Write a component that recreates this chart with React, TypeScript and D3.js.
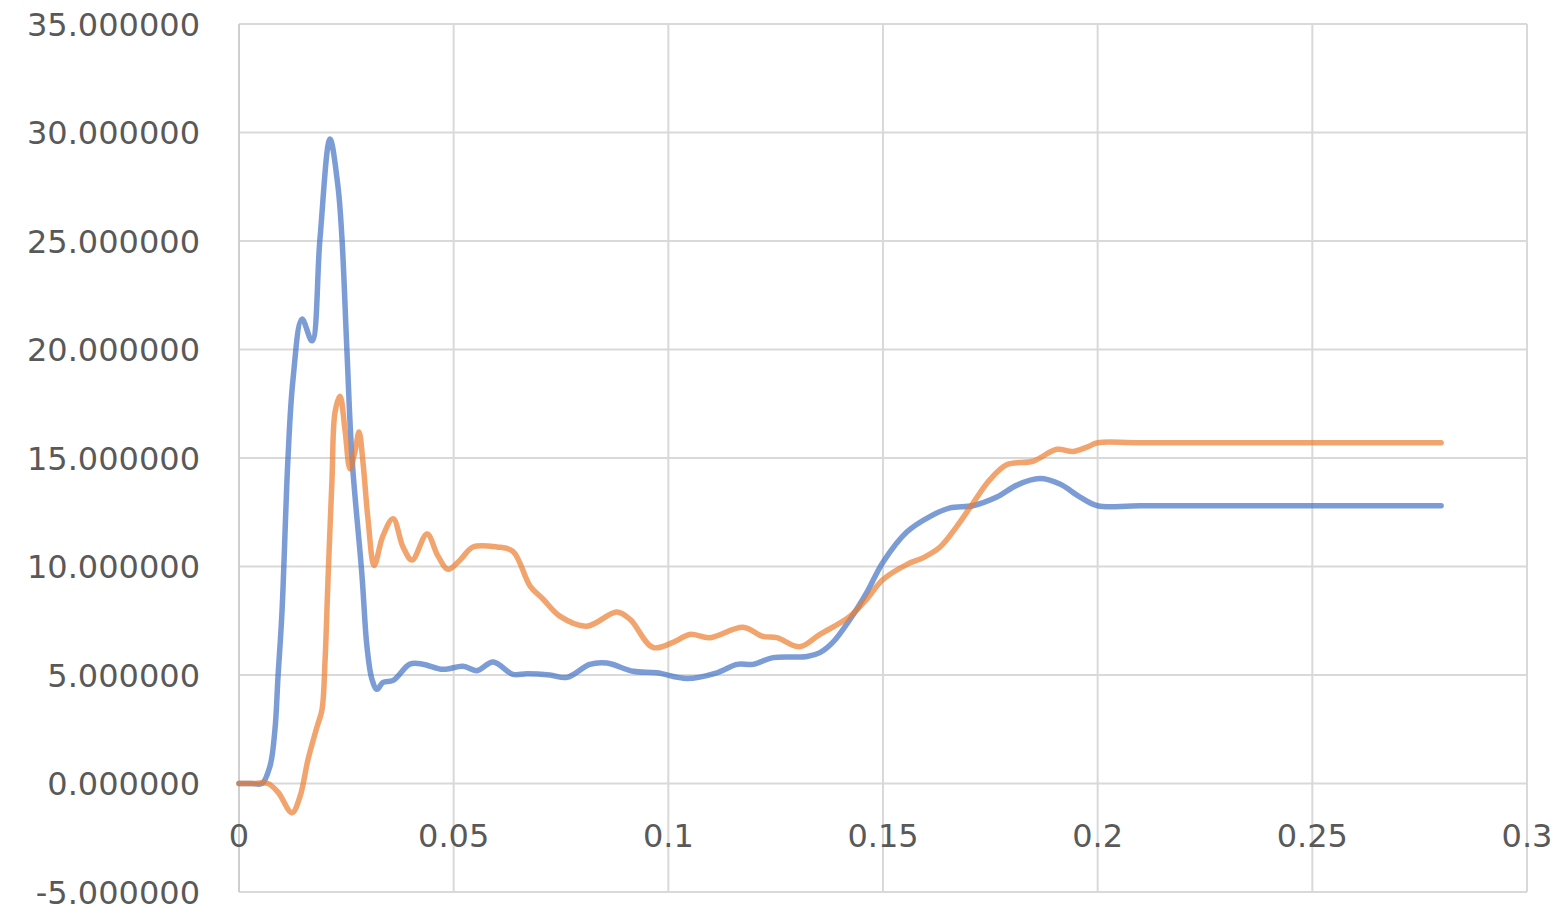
import React from "react";
import * as d3 from "d3";

const blueT = [0, 0.003, 0.00536, 0.00722, 0.00838, 0.00908, 0.01001, 0.01141, 0.01257, 0.01467, 0.017, 0.01886, 0.02119, 0.02306, 0.02399, 0.02515, 0.02632, 0.02864, 0.02981, 0.03097, 0.03214, 0.03354, 0.0359, 0.0398, 0.0428, 0.0475, 0.0522, 0.0554, 0.0592, 0.0638, 0.0671, 0.0724, 0.0764, 0.0817, 0.0857, 0.0918, 0.0973, 0.1043, 0.1113, 0.116, 0.1197, 0.1244, 0.1323, 0.1353, 0.1383, 0.1423, 0.1462, 0.15, 0.1556, 0.1609, 0.1656, 0.1709, 0.1765, 0.1812, 0.1865, 0.1912, 0.1959, 0.2, 0.21, 0.28];
const blueV = [0, 0, 0, 0.8, 2.5, 4.9, 7.9, 15, 18.6, 21.4, 20.4, 25.1, 29.7, 27.5, 25.1, 19.9, 15, 9.6, 6.3, 4.8, 4.34, 4.66, 4.75, 5.5, 5.5, 5.26, 5.4, 5.2, 5.6, 5.03, 5.06, 5.0, 4.89, 5.49, 5.55, 5.17, 5.1, 4.84, 5.1, 5.49, 5.49, 5.8, 5.85, 6.03, 6.5, 7.56, 8.8, 10.2, 11.6, 12.3, 12.7, 12.8, 13.2, 13.75, 14.05, 13.8, 13.2, 12.8, 12.8, 12.8];

const orangeT = [0, 0.003, 0.0067, 0.00908, 0.01234, 0.01421, 0.01607, 0.01816, 0.01933, 0.02003, 0.02073, 0.02166, 0.02236, 0.02352, 0.02469, 0.02585, 0.02701, 0.02795, 0.02888, 0.03004, 0.0315, 0.0335, 0.0359, 0.0382, 0.0403, 0.0438, 0.0463, 0.0487, 0.0515, 0.0545, 0.0601, 0.0638, 0.0678, 0.0708, 0.0748, 0.081, 0.088, 0.0911, 0.0964, 0.1011, 0.105, 0.1097, 0.1174, 0.122, 0.1253, 0.1306, 0.1353, 0.1423, 0.1462, 0.15, 0.1556, 0.1593, 0.1633, 0.1672, 0.1709, 0.1749, 0.1789, 0.1849, 0.1905, 0.1942, 0.1975, 0.2, 0.21, 0.28];
const orangeV = [0, 0, 0, -0.4, -1.35, -0.6, 1.1, 2.6, 3.4, 5.6, 9.4, 14, 17.1, 17.85, 16.3, 14.5, 15.3, 16.2, 14.8, 12.2, 10.05, 11.4, 12.2, 10.9, 10.3, 11.5, 10.5, 9.87, 10.3, 10.9, 10.9, 10.7, 9.1, 8.5, 7.7, 7.25, 7.9, 7.56, 6.27, 6.5, 6.87, 6.72, 7.2, 6.78, 6.72, 6.3, 6.87, 7.7, 8.5, 9.4, 10.1, 10.4, 10.9, 11.85, 12.9, 14.0, 14.7, 14.85, 15.4, 15.3, 15.5, 15.7, 15.7, 15.7];

const xTicks = [0, 0.05, 0.1, 0.15, 0.2, 0.25, 0.3];
const xTickLabels = ["0", "0.05", "0.1", "0.15", "0.2", "0.25", "0.3"];
const yTicks = [-5, 0, 5, 10, 15, 20, 25, 30, 35];

const W = 1563;
const H = 913;
const left = 239;
const right = 1527;
const top = 24;
const bottom = 892;

export default function App() {
  const x = d3.scaleLinear().domain([0, 0.3]).range([left, right]);
  const y = d3.scaleLinear().domain([-5, 35]).range([bottom, top]);
  const line = d3
    .line<[number, number]>()
    .x((d) => x(d[0]))
    .y((d) => y(d[1]))
    .curve(d3.curveCatmullRom.alpha(0.5));
  const blue = blueT.map((t, i) => [t, blueV[i]] as [number, number]);
  const orange = orangeT.map((t, i) => [t, orangeV[i]] as [number, number]);
  const font = "'DejaVu Sans', sans-serif";
  return (
    <svg
      width={W}
      height={H}
      style={{ position: "absolute", left: 0, top: 0, background: "#fff" }}
    >
      <rect x={0} y={0} width={W} height={H} fill="#fff" />
      {yTicks.map((v) => (
        <line key={"h" + v} x1={left} x2={right} y1={y(v)} y2={y(v)} stroke="#d9d9d9" strokeWidth={2} />
      ))}
      {xTicks.map((v) => (
        <line key={"v" + v} x1={x(v)} x2={x(v)} y1={top} y2={bottom} stroke="#d9d9d9" strokeWidth={2} />
      ))}
      <line x1={left} x2={left} y1={top} y2={bottom} stroke="#cfcfcf" strokeWidth={2} />
      {yTicks.map((v) => (
        <text
          key={"yl" + v}
          x={200}
          y={y(v)}
          dy="0.36em"
          textAnchor="end"
          fontFamily={font}
          fontSize={32}
          fill="#595959"
        >
          {v.toFixed(6)}
        </text>
      ))}
      {xTicks.map((v, i) => (
        <text
          key={"xl" + v}
          x={x(v)}
          y={835}
          dy="0.36em"
          textAnchor="middle"
          fontFamily={font}
          fontSize={32}
          fill="#595959"
        >
          {xTickLabels[i]}
        </text>
      ))}
      <path d={line(blue) || ""} fill="none" stroke="#4472C4" strokeOpacity={0.7} strokeWidth={5.5} strokeLinejoin="round" strokeLinecap="round" />
      <path d={line(orange) || ""} fill="none" stroke="#ED7D31" strokeOpacity={0.7} strokeWidth={5.5} strokeLinejoin="round" strokeLinecap="round" />
    </svg>
  );
}
